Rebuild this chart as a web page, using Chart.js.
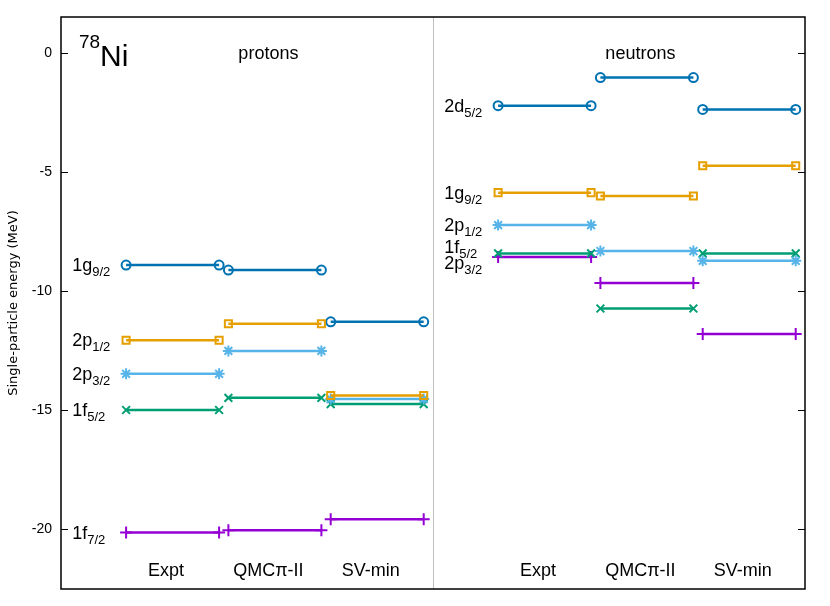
<!DOCTYPE html>
<html>
<head>
<meta charset="utf-8">
<script src="https://cdn.jsdelivr.net/npm/chart.js@4.4.1/dist/chart.umd.min.js"></script>
<style>
  html, body { margin: 0; padding: 0; background: #fff; }
  #wrap { width: 830px; height: 606px; }
</style>
</head>
<body>
<div id="wrap"><canvas id="myChart" width="830" height="606"></canvas></div>
<script>
// modelos (columnas) y niveles
const modelos = ['Expt', 'QMCπ-II', 'SV-min']

const nivelesProtones = [['1g', '9/2'], ['2p', '1/2'], ['2p', '3/2'], ['1f', '5/2'], ['1f', '7/2']]
const protonesExpt = [-8.91, -12.06, -13.47, -14.99, -20.13]
const protonesQMC = [-9.12, -11.37, -12.51, -14.48, -20.03]
const protonesSV = [-11.29, -14.38, -14.53, -14.74, -19.57]

const nivelesNeutrones = [['2d', '5/2'], ['1g', '9/2'], ['2p', '1/2'], ['1f', '5/2'], ['2p', '3/2']]
const neutronesExpt = [-2.22, -5.87, -7.23, -8.42, -8.57]
const neutronesQMC = [-1.04, -6.01, -8.32, -10.73, -9.66]
const neutronesSV = [-2.38, -4.74, -8.73, -8.42, -11.80]

const yTicks = [-20, -15, -10, -5, 0]

// estilos por nivel (mismo orden que los arreglos)
const colores = ['#0072b2', '#e69f00', '#56b4e9', '#009e73', '#9400d3']
const marcadores = ['circle', 'rect', 'star', 'crossRot', 'cross']
const radios = [4.5, 5, 5.5, 5.5, 6]

const myChartCanvas = document.querySelector('#myChart')

// x de cada columna: inicio de la raya
function inicioColumna(lado, m) {
  return lado * 4 + 0.7 + m * 1.1
}

function armarDatasets(lado, series) {
  const sets = []
  series.forEach((valores, m) => {
    valores.forEach((v, i) => {
      const x0 = inicioColumna(lado, m)
      sets.push({
        data: [{ x: x0, y: v }, { x: x0 + 1, y: v }],
        showLine: true,
        borderColor: colores[i],
        backgroundColor: colores[i],
        borderWidth: 2.5,
        pointStyle: marcadores[i],
        pointRadius: radios[i],
        pointBorderWidth: 2,
        pointBackgroundColor: 'rgba(0,0,0,0)',
        pointBorderColor: colores[i],
      })
    })
  })
  return sets
}

const datasets = [
  ...armarDatasets(0, [protonesExpt, protonesQMC, protonesSV]),
  ...armarDatasets(1, [neutronesExpt, neutronesQMC, neutronesSV]),
]

function etiquetaNivel(ctx, txt, sub, x0, yBase) {
  ctx.font = '18px "Liberation Sans", Arial, sans-serif'
  const w1 = ctx.measureText(txt).width
  ctx.fillText(txt, x0, yBase)
  ctx.font = '13px "Liberation Sans", Arial, sans-serif'
  ctx.fillText(sub, x0 + w1, yBase + 5)
}

const decoracion = {
  id: 'decoracion',
  beforeDatasetsDraw(chart) {
    const { ctx, chartArea: a, scales: { x } } = chart
    ctx.save()
    // divisor
    ctx.strokeStyle = '#c0c0c0'
    ctx.lineWidth = 1
    ctx.beginPath()
    ctx.moveTo(Math.round(x.getPixelForValue(4)) + 0.5, a.top)
    ctx.lineTo(Math.round(x.getPixelForValue(4)) + 0.5, a.bottom)
    ctx.stroke()
    ctx.restore()
  },
  afterDatasetsDraw(chart) {
    const { ctx, chartArea: a, scales: { x, y } } = chart
    ctx.save()
    // marco
    ctx.strokeStyle = '#000'
    ctx.lineWidth = 1.5
    ctx.strokeRect(a.left, a.top, a.right - a.left, a.bottom - a.top)
    // ticks hacia adentro
    ctx.lineWidth = 1
    yTicks.forEach(v => {
      const py = Math.round(y.getPixelForValue(v)) + 0.5
      ctx.beginPath()
      ctx.moveTo(a.left, py); ctx.lineTo(a.left + 7, py)
      ctx.moveTo(a.right, py); ctx.lineTo(a.right - 7, py)
      ctx.stroke()
    })

    ctx.fillStyle = '#000'
    ctx.textBaseline = 'alphabetic'
    // 78Ni
    ctx.textAlign = 'left'
    ctx.font = '19px "Liberation Sans", Arial, sans-serif'
    ctx.fillText('78', 79, 48)
    ctx.font = '30px "Liberation Sans", Arial, sans-serif'
    ctx.fillText('Ni', 100, 66)

    // encabezados
    ctx.textAlign = 'center'
    ctx.font = '18px "Liberation Sans", Arial, sans-serif'
    ctx.fillText('protons', x.getPixelForValue(2.23), 59)
    ctx.fillText('neutrons', x.getPixelForValue(6.23), 59)
    modelos.forEach((m, i) => {
      ctx.fillText(m, x.getPixelForValue(1.13 + i * 1.1), a.bottom - 13)
      ctx.fillText(m, x.getPixelForValue(5.13 + i * 1.1), a.bottom - 13)
    })

    // etiquetas de niveles
    ctx.textAlign = 'left'
    nivelesProtones.forEach(([t, s], i) => {
      etiquetaNivel(ctx, t, s, x.getPixelForValue(0.12), y.getPixelForValue(protonesExpt[i]) + 6)
    })
    const ajuste = [0, 0, 0, -6, 6]
    nivelesNeutrones.forEach(([t, s], i) => {
      etiquetaNivel(ctx, t, s, x.getPixelForValue(4.12), y.getPixelForValue(neutronesExpt[i]) + 6 + ajuste[i])
    })
    ctx.restore()
  }
}

const config = {
  type: 'scatter',
  data: { datasets },
  options: {
    responsive: false,
    animation: false,
    layout: { padding: { top: 17, right: 25, bottom: 17, left: 0 } },
    plugins: { legend: { display: false }, tooltip: { enabled: false } },
    scales: {
      x: { type: 'linear', min: 0, max: 8, display: false },
      y: {
        type: 'linear',
        min: -22.5,
        max: 1.5,
        afterBuildTicks: (s) => { s.ticks = yTicks.map(v => ({ value: v })) },
        afterFit: (s) => { s.width = 61 },
        grid: { display: false },
        border: { display: false },
        ticks: {
          color: '#000',
          padding: 1,
          font: { family: 'Liberation Sans', size: 14 },
        },
        title: {
          display: true,
          text: 'Single-particle energy (MeV)',
          color: '#000',
          font: { family: 'DejaVu Sans', size: 13 },
          padding: { top: 6, bottom: 0 },
        },
      },
    },
  },
  plugins: [decoracion],
}

new Chart(myChartCanvas, config)
</script>
</body>
</html>
